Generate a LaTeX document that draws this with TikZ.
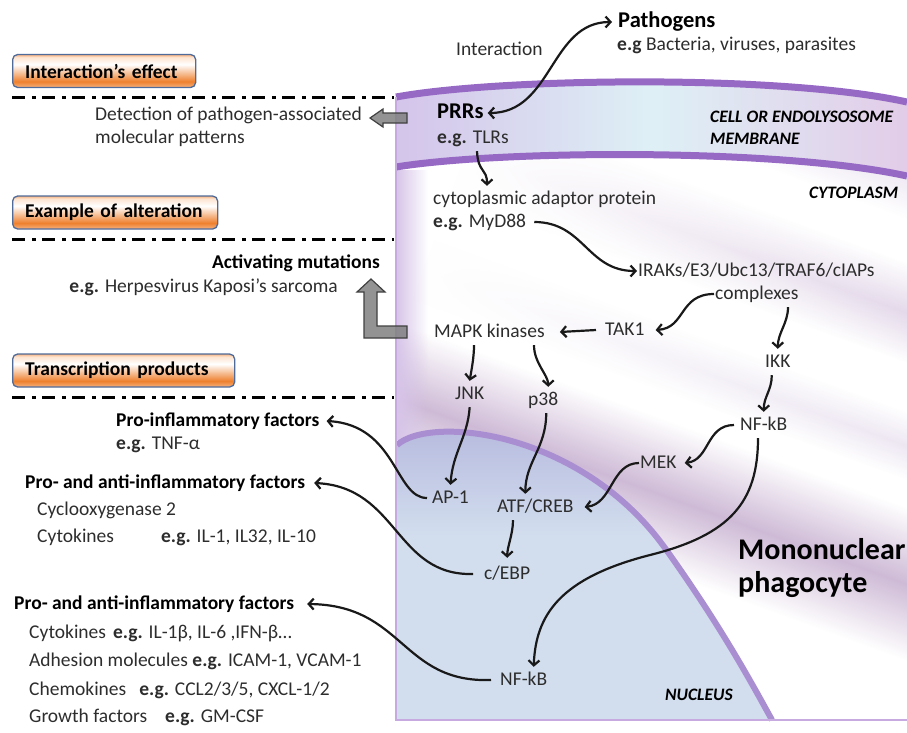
\documentclass[tikz,border=0pt]{standalone}
\usepackage{fontspec}
\setmainfont{Carlito}
\usepackage{tikz}
\usetikzlibrary{arrows.meta,positioning,fadings}
\definecolor{inkgray}{RGB}{45,45,45}
\definecolor{legedge}{RGB}{78,107,154}
\definecolor{legorange}{RGB}{238,128,46}
\definecolor{legpeach}{RGB}{246,178,128}
\definecolor{leglight}{RGB}{253,228,208}
\definecolor{blockgray}{RGB}{128,128,128}
\definecolor{memdark}{RGB}{150,106,196}
\definecolor{memleft}{RGB}{212,196,234}
\definecolor{memmid}{RGB}{222,240,246}
\definecolor{memright}{RGB}{226,204,232}
\definecolor{cytobase}{RGB}{234,226,240}
\definecolor{cytomauve}{RGB}{220,205,228}
\definecolor{cytopurple}{RGB}{206,186,214}
\definecolor{nucdark}{RGB}{180,183,221}
\definecolor{nuclight}{RGB}{210,222,238}
\definecolor{nucedge}{RGB}{170,142,210}
\definecolor{celledge}{RGB}{198,170,224}
\newcommand{\fsbody}{\fontsize{19.5}{23}\selectfont}
\newcommand{\fsbig}{\fontsize{22.5}{26}\selectfont}
\newcommand{\fspath}{\fontsize{22.5}{26}\selectfont}
\newcommand{\fsregion}{\fontsize{17.5}{22}\selectfont}
\newcommand{\fsmono}{\fontsize{30}{33}\selectfont}
\pgfdeclareverticalshading{legshade}{100bp}{color(0bp)=(legpeach); color(25bp)=(legpeach);
  color(34bp)=(legorange); color(60bp)=(white); color(71bp)=(leglight); color(75bp)=(legpeach); color(100bp)=(legpeach)}
\pgfdeclareverticalshading{nucshade}{100bp}{color(0bp)=(nuclight); color(55bp)=(nuclight);
  color(75bp)=(nucdark); color(100bp)=(nucdark)}
\tikzset{
  lbl/.style={inner xsep=1pt,inner ysep=4pt,anchor=west,text height=14pt,text depth=4pt,font=\fsbody,text=inkgray},
  hdr/.style={lbl,font=\fsbody\bfseries,text=black},
  region/.style={inner sep=1pt,anchor=west,align=left,font=\fsregion\bfseries\itshape},
  legbox/.style={anchor=west,align=left,inner xsep=12.5pt,minimum height=33pt,rounded corners=5pt,
              draw=legedge,line width=1.3pt,shade,shading=legshade,font=\fsbody\bfseries},
  streak/.style={top color=white,bottom color=white,middle color=#1},
  flow/.style={->,line width=2.2pt,draw=black!90},
  sepline/.style={line width=3pt,dash pattern=on 13pt off 7pt on 4pt off 6pt},
  blockarrow/.style={fill=blockgray,draw=black!75,line width=1.2pt,fill opacity=0.85},
  memstroke/.style={draw=memdark,line width=7pt},
}
\begin{document}
\begin{tikzpicture}[x=1pt,y=-1pt,>={Straight Barb[length=5pt,width=11pt]}]
  \useasboundingbox (0,0) rectangle (907,732);
  % cell body
  \begin{scope}
    \clip (396,167) .. controls (500,150) and (780,148) .. (907,176) -- (907,720) -- (396,720) -- cycle;
    \fill[white] (396,140) rectangle (907,720);
    \begin{scope}[transform canvas={rotate around={-20:(651,434)}}]
      \shade[streak=cytobase] (150,40) rectangle (1150,145);
      \shade[streak=cytomauve,path fading=west] (380,185) rectangle (1000,280);
      \shade[streak=cytobase,path fading=west] (380,325) rectangle (1000,390);
      \shade[streak=cytopurple] (150,415) rectangle (1150,560);
    \end{scope}
    \fill[celledge!70,path fading=east] (396,170) rectangle (428,440);
  \end{scope}
  \shade[left color=memleft,right color=memright,middle color=memmid]
    (396,97) .. controls (500,78) and (780,74) .. (907,102) -- (907,176)
    .. controls (780,148) and (500,150) .. (396,167) -- cycle;
  \draw[memstroke] (396,97) .. controls (500,78) and (780,74) .. (907,102);
  \draw[memstroke] (396,167) .. controls (500,150) and (780,148) .. (907,176);
  % nucleus
  \shade[shading=nucshade] (397,445) .. controls (430,415) and (580,430) .. (665,548)
    .. controls (720,625) and (750,680) .. (772,720) -- (397,720) -- cycle;
  \draw[draw=nucedge,line width=6pt] (397,445) .. controls (430,415) and (580,430) .. (665,548)
    .. controls (720,625) and (750,680) .. (772,720);
  \draw[celledge,line width=2.5pt] (396,97) -- (396,720) -- (907,720);

  % legend column
  \node[legbox,text width=158pt] (legA) at (12,71) {Interaction’s effect};
  \node[legbox,text width=180pt] (legB) at (12,212.5) {Example of alteration};
  \node[legbox,text width=197pt] (legC) at (12,370.5) {Transcription products};
  \draw[sepline] (12,97) -- (394,97);
  \draw[sepline] (12,239) -- (394,239);
  \draw[sepline] (12,397) -- (394,397);

  \node[lbl] (detA) at (94,115) {Detection of pathogen-associated};
  \node[lbl] (detB) at (94,138) {molecular patterns};
  \filldraw[blockarrow] (370,118) -- (383,109) -- (383,113) -- (407,113) -- (407,123) -- (383,123) -- (383,127) -- cycle;

  \node[hdr,anchor=east] (actm) at (381,263) {Activating mutations};
  \node[lbl,anchor=east] (actex) at (339,287) {\textbf{e.g.} Herpesvirus Kaposi’s sarcoma};
  \filldraw[blockarrow] (371,279) -- (385,292) -- (377,292) -- (377,326) -- (407,326) -- (407,338)
    -- (364,338) -- (364,292) -- (357,292) -- cycle;

  \node[hdr] (proinf) at (115,421) {Pro-inflammatory factors};
  \node[lbl] (tnf) at (115,444) {\textbf{e.g.} TNF-α};
  \node[hdr] (proantiA) at (24,483) {Pro- and anti-inflammatory factors};
  \node[lbl] (cox) at (36,510) {Cyclooxygenase 2};
  \node[lbl] (cytA) at (36,537) {Cytokines\hspace{47pt}\textbf{e.g.} IL-1, IL32, IL-10};
  \node[hdr] (proantiB) at (13,604) {Pro- and anti-inflammatory factors};
  \node[lbl] (cytB) at (28,633) {Cytokines\hspace{7pt}\textbf{e.g.} IL-1β, IL-6 ,IFN-β…};
  \node[lbl] (adh) at (28,661) {Adhesion molecules \textbf{e.g.} ICAM-1, VCAM-1};
  \node[lbl] (chem) at (28,690) {Chemokines\hspace{13pt}\textbf{e.g.} CCL2/3/5, CXCL-1/2};
  \node[lbl] (grow) at (28,717) {Growth factors\hspace{18pt}\textbf{e.g.} GM-CSF};

  % pathway
  \node[lbl,font=\fspath\bfseries,text=black] (pathg) at (617,22) {Pathogens};
  \node[lbl] (pathex) at (616,45) {\textbf{e.g} Bacteria, viruses, parasites};
  \node[lbl] (inter) at (455,50) {Interaction};
  \node[lbl,font=\fsbig\bfseries,text=black] (prr) at (436,113) {PRRs};
  \node[lbl] (tlr) at (436,138) {\textbf{e.g.} TLRs};
  \node[region] (memb) at (709,128) {CELL OR ENDOLYSOSOME\\MEMBRANE};
  \node[region] (cyto) at (808,193) {CYTOPLASM};
  \node[lbl] (adapt) at (432,199) {cytoplasmic adaptor protein};
  \node[lbl] (myd) at (432,222) {\textbf{e.g.} MyD88};
  \node[lbl] (irak) at (637,271) {IRAKs/E3/Ubc13/TRAF6/cIAPs};
  \node[lbl] (cplx) at (714,294) {complexes};
  \node[lbl] (tak) at (604,330) {TAK1};
  \node[lbl] (mapk) at (433,332) {MAPK kinases};
  \node[lbl] (ikk) at (764,362) {IKK};
  \node[lbl] (jnk) at (454,394) {JNK};
  \node[lbl] (p38) at (527,400) {p38};
  \node[lbl] (nfkb) at (739,425) {NF-kB};
  \node[lbl] (mek) at (639,463) {MEK};
  \node[lbl] (ap1) at (431,498) {AP-1};
  \node[lbl] (atf) at (496,507) {ATF/CREB};
  \node[lbl] (cebp) at (483,574) {c/EBP};
  \node[lbl] (nfkbn) at (499,680) {NF-kB};
  \node[region] (nucl) at (664,695) {NUCLEUS};
  \node[inner sep=1pt,anchor=west,align=left,font=\fsmono\bfseries] (mono) at (737,568) {Mononuclear\\phagocyte};

  \draw[flow,<->] ([xshift=3pt]prr.east) .. controls +(65,0) and +(-62,0) .. ([xshift=-5pt]pathg.west);
  \draw[flow] ([xshift=41pt]tlr.south west) .. controls +(1,22) and +(0,-18) .. ([xshift=55pt]adapt.north west);
  \draw[flow] ([xshift=7pt]myd.east) .. controls +(50,0) and +(-50,0) .. (irak.west);
  \draw[flow] (cplx.west) .. controls +(-35,0) and +(30,-2) .. ([xshift=10pt]tak.east);
  \draw[flow] ([xshift=-8pt]tak.west) -- ([xshift=14pt]mapk.east);
  \draw[flow] ([xshift=74pt]cplx.south west) .. controls +(0,16) and +(0,-16) .. (ikk.north);
  \draw[flow] ([xshift=-6pt]ikk.south) .. controls +(0,15) and +(0,-15) .. (nfkb.north);
  \draw[flow] ([xshift=-5pt]nfkb.west) .. controls +(-28,0) and +(25,-3) .. ([xshift=7pt]mek.east);
  \draw[flow] (mek.west) .. controls +(-28,0) and +(28,-3) .. ([xshift=10pt]atf.east);
  \draw[flow] ([xshift=41pt]mapk.south west) .. controls +(0,12) and +(2,-12) .. (jnk.north);
  \draw[flow] ([xshift=101pt]mapk.south west) .. controls +(0,18) and +(0,-12) .. ([xshift=5pt]p38.north);
  \draw[flow] (jnk.south) .. controls +(-2,30) and +(2,-32) .. (ap1.north);
  \draw[flow] ([xshift=3pt]p38.south) .. controls +(0,35) and +(0,-32) .. ([xshift=-10pt]atf.north);
  \draw[flow,shorten >=3pt] ([xshift=17pt]atf.south west) .. controls +(0,14) and +(0,-14) .. (cebp.north);
  \draw[flow] ([xshift=19pt]nfkb.south west) .. controls +(0,64) and +(80,-20) .. (650,555)
    .. controls +(-90,23) and +(2,-52) .. ([xshift=10pt]nfkbn.north);
  \draw[flow] ([xshift=-4pt]ap1.west) .. controls +(-32,0) and +(70,4) .. ([xshift=6pt]proinf.east);
  \draw[flow] ([xshift=-10pt]cebp.west) .. controls +(-78,2) and +(84,4) .. ([xshift=8pt]proantiA.east);
  \draw[flow] ([xshift=-8pt]nfkbn.west) .. controls +(-90,3) and +(97,1) .. ([xshift=12pt]proantiB.east);
\end{tikzpicture}
\end{document}
